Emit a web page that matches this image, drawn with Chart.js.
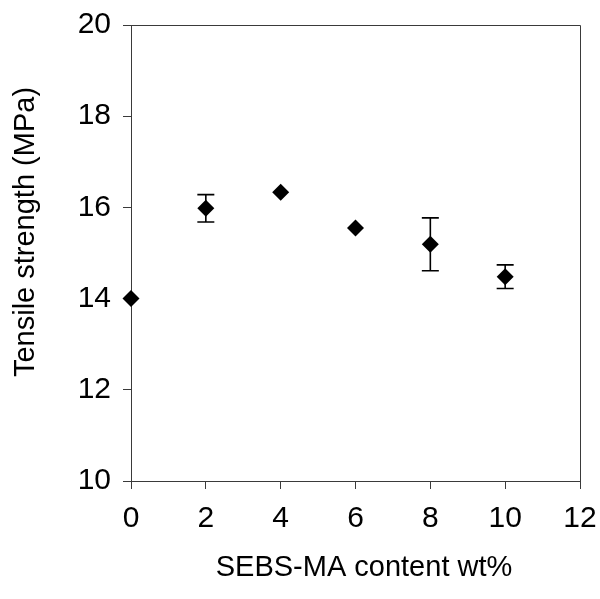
<!DOCTYPE html>
<html>
<head>
<meta charset="utf-8">
<script src="https://cdn.jsdelivr.net/npm/chart.js@4/dist/chart.umd.min.js"></script>
<style>
html,body{margin:0;padding:0;background:#fff;}
#wrap{width:600px;height:599px;}
</style>
</head>
<body>
<div id="wrap"><canvas id="c" width="600" height="599"></canvas></div>
<script>
const contentWt = [0, 2, 4, 6, 8, 10];
const tensile = [14.0, 15.98, 16.33, 15.55, 15.19, 14.48];
const tensileErr = [0, 0.30, 0, 0, 0.58, 0.26];
const xTitle = 'SEBS-MA content wt%';
const yTitle = 'Tensile strength (MPa)';

const FONT = "'Liberation Sans', Arial, sans-serif";
const AXIS = '#3a3a3a';

const errorBars = {
  id: 'errorBars',
  beforeDatasetsDraw(chart) {
    const {ctx, scales: {x, y}} = chart;
    ctx.save();
    ctx.strokeStyle = '#000';
    ctx.lineWidth = 1.6;
    contentWt.forEach((xv, i) => {
      const e = tensileErr[i];
      if (!e) return;
      const px = x.getPixelForValue(xv);
      const t = y.getPixelForValue(tensile[i] + e);
      const b = y.getPixelForValue(tensile[i] - e);
      const cap = 8.5;
      ctx.beginPath();
      ctx.moveTo(px, t); ctx.lineTo(px, b);
      ctx.moveTo(px - cap, t); ctx.lineTo(px + cap, t);
      ctx.moveTo(px - cap, b); ctx.lineTo(px + cap, b);
      ctx.stroke();
    });
    ctx.restore();
  }
};

const frameAndTitles = {
  id: 'frameAndTitles',
  beforeDatasetsDraw(chart) {
    const {ctx, chartArea: a} = chart;
    ctx.save();
    ctx.strokeStyle = AXIS;
    ctx.lineWidth = 1;
    ctx.beginPath();
    ctx.moveTo(a.left, a.top + 0.5); ctx.lineTo(a.right + 0.5, a.top + 0.5);
    ctx.lineTo(a.right + 0.5, a.bottom);
    ctx.stroke();
    ctx.restore();
  },
  afterDraw(chart) {
    const {ctx} = chart;
    ctx.save();
    ctx.fillStyle = '#000';
    ctx.font = '29px ' + FONT;
    ctx.textAlign = 'center';
    ctx.textBaseline = 'middle';
    ctx.fillText(xTitle, 364, 568);
    ctx.translate(26, 232);
    ctx.rotate(-Math.PI / 2);
    ctx.fillText(yTitle, 0, 0);
    ctx.restore();
  }
};

new Chart(document.getElementById('c'), {
  type: 'scatter',
  data: {
    datasets: [{
      data: contentWt.map((xv, i) => ({x: xv, y: tensile[i]})),
      pointStyle: 'rectRot',
      pointRadius: 8.5,
      pointHoverRadius: 8.5,
      backgroundColor: '#000',
      borderColor: '#000',
      borderWidth: 0,
      clip: false
    }]
  },
  options: {
    responsive: false,
    animation: false,
    events: [],
    layout: {padding: {top: 25, right: 20, left: 0, bottom: 0}},
    plugins: {legend: {display: false}, tooltip: {enabled: false}},
    scales: {
      x: {
        type: 'linear', min: 0, max: 12,
        afterFit(s) { s.height = 118; s.paddingLeft = 0; s.paddingRight = 0; },
        ticks: {stepSize: 2, color: '#000', font: {family: FONT, size: 30}, padding: 12, maxRotation: 0},
        grid: {drawOnChartArea: false, drawTicks: true, tickLength: 8, color: AXIS, lineWidth: 1},
        border: {display: true, color: AXIS, width: 1}
      },
      y: {
        type: 'linear', min: 10, max: 20,
        afterFit(s) { s.width = 131; s.paddingTop = 0; s.paddingBottom = 0; },
        ticks: {stepSize: 2, color: '#000', font: {family: FONT, size: 30}, padding: 12},
        grid: {drawOnChartArea: false, drawTicks: true, tickLength: 8, color: AXIS, lineWidth: 1},
        border: {display: true, color: AXIS, width: 1}
      }
    }
  },
  plugins: [errorBars, frameAndTitles]
});
</script>
</body>
</html>
